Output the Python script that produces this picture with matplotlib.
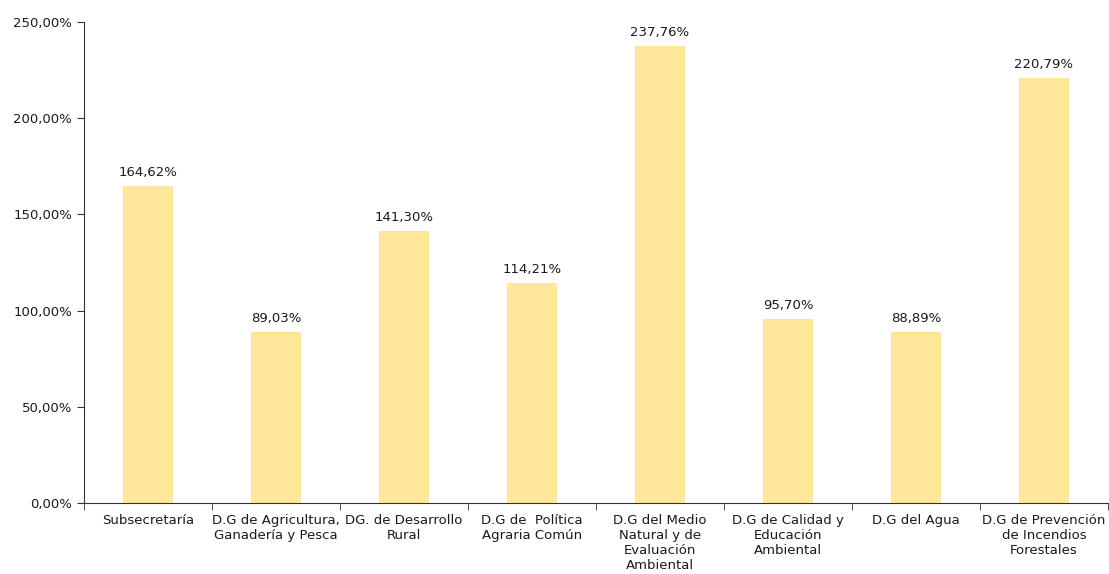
import matplotlib
matplotlib.use('Agg')
import matplotlib.pyplot as plt
import numpy as np

# data
categories = [
    "Subsecretaría",
    "D.G de Agricultura,\nGanadería y Pesca",
    "DG. de Desarrollo\nRural",
    "D.G de  Política\nAgraria Común",
    "D.G del Medio\nNatural y de\nEvaluación\nAmbiental",
    "D.G de Calidad y\nEducación\nAmbiental",
    "D.G del Agua",
    "D.G de Prevención\nde Incendios\nForestales",
]
values = [164.62, 89.03, 141.30, 114.21, 237.76, 95.70, 88.89, 220.79]
y_ticks = [0, 50, 100, 150, 200, 250]

def pct(v):
    return "{:.2f}%".format(v).replace(".", ",")

fig = plt.figure(figsize=(11.09, 5.74), dpi=100)
ax = fig.add_axes([0.0757, 0.1237, 0.9233, 0.838])

x = np.arange(len(categories))
ax.bar(x, values, width=0.39, color="#FFE699", zorder=2)

for xi, v in zip(x, values):
    ax.annotate(pct(v), (xi, v), xytext=(0, 5), textcoords="offset points",
                ha="center", va="bottom", fontsize=9.5, color="#1a1a1a")

ax.set_xlim(-0.5, len(categories) - 0.5)
ax.set_ylim(0, 250)
ax.set_yticks(y_ticks)
ax.set_yticklabels([pct(t) for t in y_ticks], fontsize=9.5, color="#1a1a1a")

ax.set_xticks(x)
ax.set_xticklabels(categories, fontsize=9.5, color="#1a1a1a", linespacing=1.2)
ax.tick_params(axis="x", which="major", length=0, pad=8)
ax.set_xticks(np.arange(len(categories) + 1) - 0.5, minor=True)
ax.tick_params(axis="x", which="minor", length=5, color="#333333")
ax.tick_params(axis="y", length=5, color="#333333")

for side in ["top", "right"]:
    ax.spines[side].set_visible(False)
for side in ["left", "bottom"]:
    ax.spines[side].set_color("#333333")

plt.savefig("out.png", dpi=100)
